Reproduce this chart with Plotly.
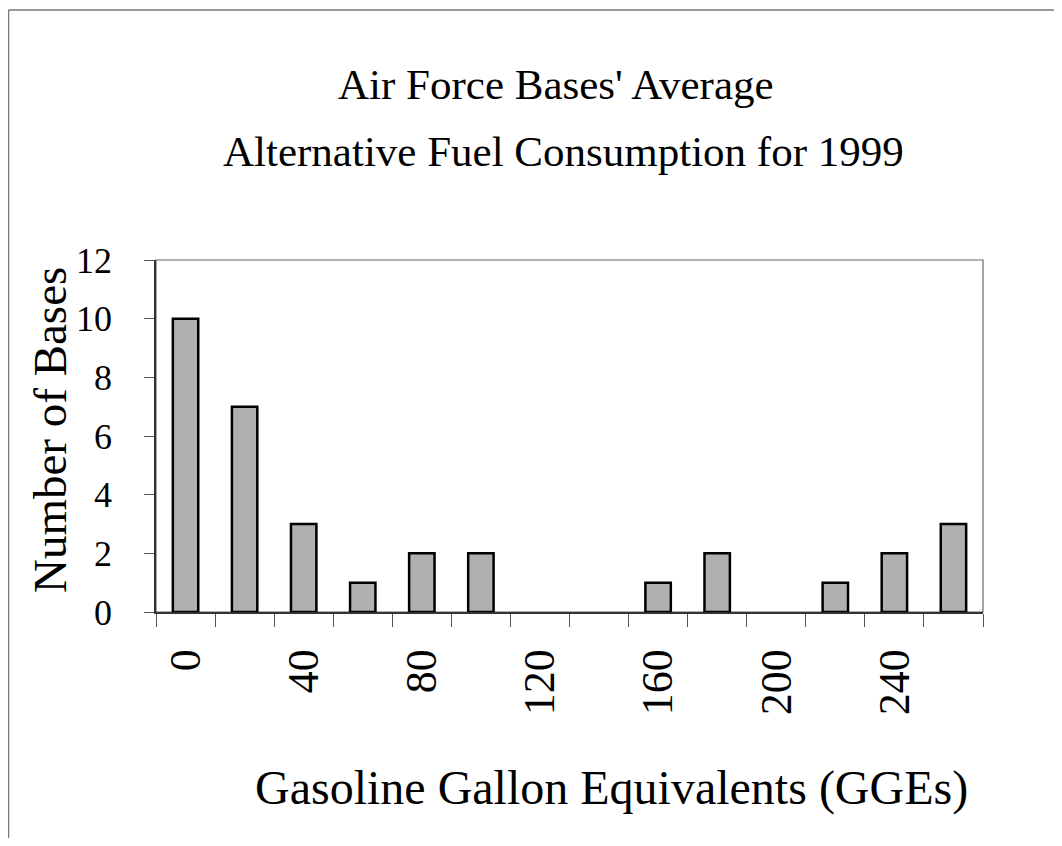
import plotly.graph_objects as go

# Data
gge_bins = [0, 20, 40, 60, 80, 100, 120, 140, 160, 180, 200, 220, 240, 260]
num_bases = [10, 7, 3, 1, 2, 2, 0, 0, 1, 2, 0, 1, 2, 3]
x_tick_vals = [0, 40, 80, 120, 160, 200, 240]
x_tick_text = ["0", "40", "80", "120", "160", "200", "240"]
y_tick_vals = [0, 2, 4, 6, 8, 10, 12]

title_line1 = "Air Force Bases' Average"
title_line2 = "Alternative Fuel Consumption for 1999"
x_title = "Gasoline Gallon Equivalents (GGEs)"
y_title = "Number of Bases"

OFF = 8  # default page body margin
W, H = 1062 - OFF, 846 - 2 * OFF
L = 156 - OFF
T = 260 - OFF
R = W - (983 - OFF)
B = H - (612 - OFF)
PW, PH = W - L - R, H - T - B
FONT = "Liberation Serif, Times New Roman, serif"


def px(xpage):
    return (xpage - OFF - L) / PW


def py(ypage):
    return (H - B - (ypage - OFF)) / PH


outline_w = [0 if v == 0 else 2.5 for v in num_bases]

fig = go.Figure()
fig.add_trace(go.Bar(
    x=gge_bins, y=num_bases,
    marker=dict(color="#b0b0b0", line=dict(color="black", width=outline_w)),
    width=8.6,
))

fig.update_layout(
    width=W, height=H,
    margin=dict(l=L, r=R, t=T, b=B, pad=0),
    paper_bgcolor="white", plot_bgcolor="white",
    showlegend=False,
    font=dict(family=FONT, color="black"),
    xaxis=dict(
        range=[-10, 270], tickvals=x_tick_vals, ticktext=x_tick_text,
        tickangle=-90, ticks="", showgrid=False, zeroline=False,
        showline=True, linecolor="#333", linewidth=1.5,
        tickfont=dict(size=44, family=FONT), ticklabelstandoff=18,
        minor=dict(ticks="outside", ticklen=13, tick0=-10, dtick=20,
                   tickcolor="#555", tickwidth=1, showgrid=False),
    ),
    yaxis=dict(
        range=[0, 12], tickvals=y_tick_vals, ticks="outside", ticklen=10,
        tickcolor="#555", showgrid=False, zeroline=False,
        showline=True, linecolor="#333", linewidth=1.5,
        tickfont=dict(size=36, family=FONT), ticklabelstandoff=25,
    ),
    shapes=[
        dict(type="rect", xref="paper", yref="paper", x0=0, x1=1, y0=0, y1=1,
             line=dict(color="#666", width=1.2), layer="below"),
        dict(type="line", xref="paper", yref="paper", x0=px(8.5), x1=px(8.5),
             y0=py(10), y1=py(846), line=dict(color="#777", width=1.5)),
        dict(type="line", xref="paper", yref="paper", x0=px(8.5), x1=px(1062),
             y0=py(10), y1=py(10), line=dict(color="#777", width=1.5)),
    ],
    annotations=[
        dict(text=title_line1, xref="paper", yref="paper", x=px(556), y=py(84),
             showarrow=False, xanchor="center", yanchor="middle",
             font=dict(size=43, family=FONT)),
        dict(text=title_line2, xref="paper", yref="paper", x=px(563), y=py(152),
             showarrow=False, xanchor="center", yanchor="middle",
             font=dict(size=43, family=FONT)),
        dict(text=x_title, xref="paper", yref="paper", x=px(611), y=py(788),
             showarrow=False, xanchor="center", yanchor="middle",
             font=dict(size=48, family=FONT)),
        dict(text=y_title, xref="paper", yref="paper", x=px(50), y=py(430),
             showarrow=False, xanchor="center", yanchor="middle", textangle=-90,
             font=dict(size=47, family=FONT)),
    ],
)

fig.write_html("out.html")
